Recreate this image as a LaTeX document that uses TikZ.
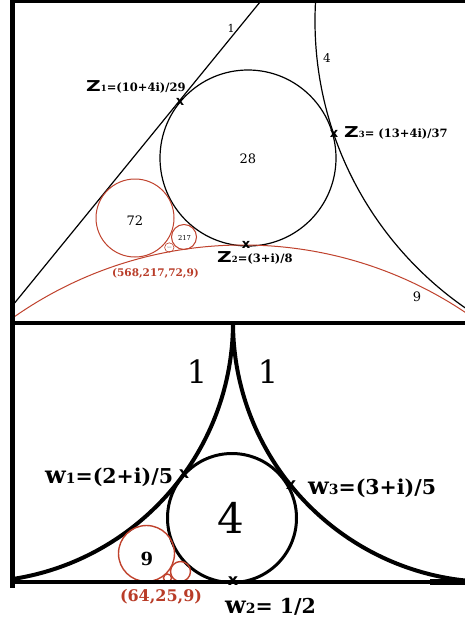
\documentclass[tikz,border=0pt]{standalone}
\usepackage{fontspec}
\setmainfont{DejaVu Serif}
\newfontfamily\sansb{DejaVu Sans}
\definecolor{apred}{RGB}{192,66,45}
\definecolor{aptext}{RGB}{185,60,40}
\newcommand{\fsz}[1]{\fontsize{#1}{#1}\selectfont}
\newcommand{\bigZ}[1]{{\sansb\bfseries\fsz{15}\scalebox{1.35}[1]{Z}}{\fsz{8.5}#1}}
\newcommand{\bigW}[1]{{\bfseries\fsz{24}w}{\fsz{14}#1}}
\begin{document}
\begin{tikzpicture}[x=1pt,y=-1pt,
  frame/.style={line width=4.5pt,black},
  topline/.style={line width=1.2pt,black},
  redline/.style={line width=1pt,apred},
  boldarc/.style={line width=4pt,black},
  midcirc/.style={line width=3pt,black},
  redthick/.style={line width=1.4pt,apred},
  lab/.style={inner sep=0pt},
  zlab/.style={inner sep=0pt,font=\bfseries\fsz{11.5}},
  wlab/.style={inner sep=0pt,font=\bfseries\fsz{20.5}},
  xm/.style={inner sep=0pt,font=\sansb\bfseries\fsz{13}},
  xmb/.style={inner sep=0pt,font=\sansb\bfseries\fsz{16}}]
\useasboundingbox (0,0) rectangle (465,621);
\fill[white] (0,0) rectangle (465,621);

% ---------- top panel ----------
\begin{scope}
\clip (12,0) rectangle (465,322);
\draw[topline] (-7.4,330) -- (269.8,-10);
\draw[topline] (664,21) circle (349);
\draw[topline] (248,158) circle (88);
\draw[redline] (243,645) circle (400);
\draw[redline] (135,218) circle (39);
\draw[redline] (184,237) circle (12.5);
\draw[redline,line width=0.6pt] (169.3,247.5) circle (4.7);
\end{scope}

\node[lab,font=\fsz{11}] (l1) at (231,28) {1};
\node[lab,font=\fsz{12}] (l4) at (327,58) {4};
\node[lab,font=\fsz{13}] (l28) at (248,159) {28};
\node[lab,font=\fsz{13}] (l72) at (135,221) {72};
\node[lab,font=\fsz{6.8}] (l217) at (184.5,237.5) {217};
\node[lab,font=\fsz{2.3},text=gray] (l568) at (169.3,247.5) {568};
\node[lab,font=\fsz{13}] (l9) at (417,297) {9};

\node[xm] (x1) at (180,102) {x};
\node[xm] (x3) at (334,134) {x};
\node[xm] (x2) at (246,245) {x};

\node[zlab,anchor=base west] (z1) at (86,91) {\bigZ{1}=(10+4i)/29};
\node[zlab,anchor=base west] (z3) at (344,137) {\bigZ{3}= (13+4i)/37};
\node[zlab,anchor=base west] (z2) at (217,262) {\bigZ{2}=(3+i)/8};
\node[lab,font=\bfseries\fsz{10.5},text=aptext,anchor=base] (q1) at (155.5,276) {(568,217,72,9)};

% ---------- bottom panel ----------
\begin{scope}
\clip (12,322) rectangle (465,582);
\draw[boldarc] (-27,322) circle (260);
\draw[boldarc] (493,322) circle (260);
\draw[midcirc] (232,518) circle (64.5);
\draw[redthick] (146.5,553.5) circle (28);
\draw[redthick] (180.5,571.5) circle (10);
\draw[redthick] (167.5,578) circle (4);
\end{scope}

\node[lab,font=\fsz{32},anchor=base] (b1a) at (197,383) {1};
\node[lab,font=\fsz{32},anchor=base] (b1b) at (268,383) {1};
\node[lab,font=\fsz{42},anchor=base] (b4) at (231,533) {4};
\node[lab,font=\bfseries\fsz{18},anchor=base] (b9) at (147,565) {9};

\node[xmb] (xw1) at (184,474) {x};
\node[xmb] (xw3) at (291,485) {x};
\node[xmb] (xw2) at (233,581) {x};

\node[wlab,anchor=base west] (w1) at (45,483) {\bigW{1}=(2+i)/5};
\node[wlab,anchor=base west] (w3) at (308,494) {\bigW{3}=(3+i)/5};
\node[wlab,anchor=base west] (w2) at (225,613) {\bigW{2}= 1/2};
\node[lab,font=\bfseries\fsz{16},text=aptext,anchor=base] (q2) at (161,601) {(64,25,9)};

% ---------- frame ----------
\draw[line width=3.3pt] (12,1.6) -- (465,1.6);
\draw[frame] (12.3,0) -- (12.3,588);
\draw[frame] (10,322.8) -- (465,322.8);
\draw[line width=3.5pt] (12,582) -- (465,582);
\draw[line width=6pt] (430,582) -- (465,582);
\end{tikzpicture}
\end{document}
